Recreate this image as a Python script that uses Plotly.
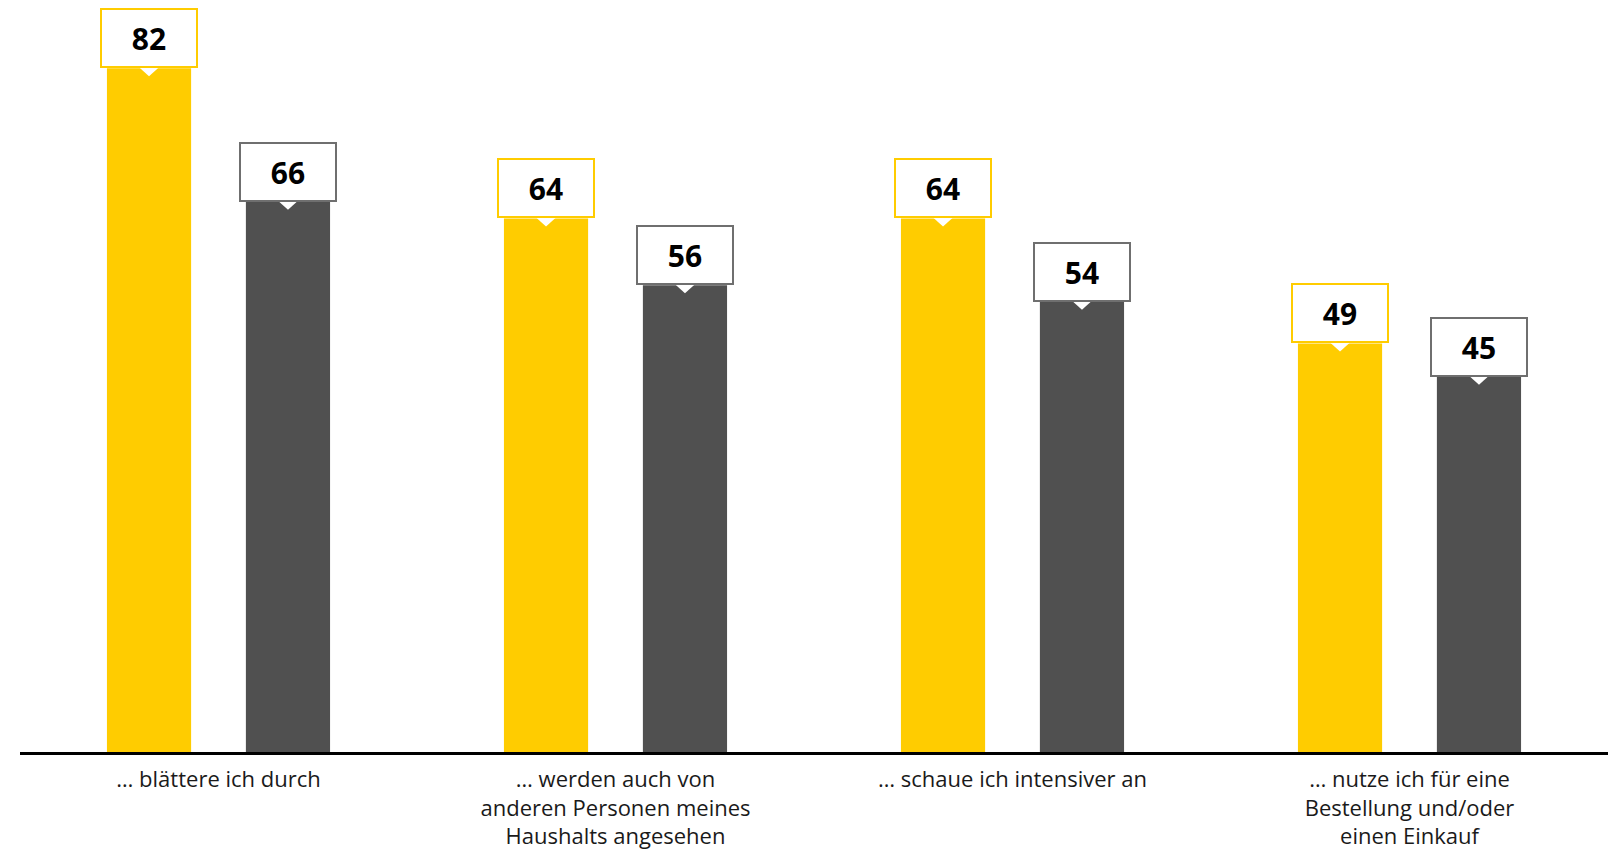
import plotly.graph_objects as go

categories = [
    "… blättere ich durch",
    "… werden auch von<br>anderen Personen meines<br>Haushalts angesehen",
    "… schaue ich intensiver an",
    "… nutze ich für eine<br>Bestellung und/oder<br>einen Einkauf",
]
series_a = [82, 64, 64, 49]
series_b = [66, 56, 54, 45]

YELLOW = "#FFCC00"
DARK = "#505050"
GREY_BORDER = "#6F6F6F"
FONT = "Open Sans"

bar_w = 0.212
shift = 0.175
idx = list(range(len(categories)))

fig = go.Figure()
for vals, col, sgn in [(series_a, YELLOW, -1), (series_b, DARK, 1)]:
    fig.add_trace(go.Bar(
        x=idx, y=vals, width=bar_w, offset=sgn * shift - bar_w / 2,
        marker=dict(color=col, line=dict(width=0)), showlegend=False,
        hoverinfo="skip",
    ))

# value callouts: white box with coloured border and a small notch pointing down
for vals, border, sgn in [(series_a, YELLOW, -1), (series_b, GREY_BORDER, 1)]:
    for i, v in zip(idx, vals):
        xc = i + sgn * shift
        fig.add_annotation(
            x=xc, y=v, xref="x", yref="y", yanchor="bottom", xanchor="center",
            text=f"<b>{v}</b>", showarrow=False,
            font=dict(family=FONT, size=30, color="#000000"),
            bgcolor="white", bordercolor=border, borderwidth=2,
            width=94, height=56, borderpad=0, valign="middle",
        )
        fig.add_shape(
            type="path", xref="x", yref="y", xsizemode="pixel", ysizemode="pixel",
            xanchor=xc, yanchor=v,
            path="M -10 1 L 10 1 L 0 -8 Z",
            fillcolor="white", line=dict(width=0), layer="above",
        )

fig.update_layout(
    width=1618, height=851,
    margin=dict(l=20, r=10, t=0, b=99),
    paper_bgcolor="white", plot_bgcolor="white",
    barmode="overlay",
    font=dict(family=FONT, color="#1a1a1a"),
    xaxis=dict(
        range=[-0.5, 3.5], tickvals=idx, ticktext=categories,
        showgrid=False, zeroline=False, showline=True,
        linecolor="#000000", linewidth=2.5,
        ticks="outside", ticklen=6, tickcolor="rgba(0,0,0,0)",
        tickfont=dict(family=FONT, size=22, color="#1a1a1a"),
    ),
    yaxis=dict(range=[0, 90.2], visible=False, showgrid=False, zeroline=False),
)

fig.write_html("out.html")
